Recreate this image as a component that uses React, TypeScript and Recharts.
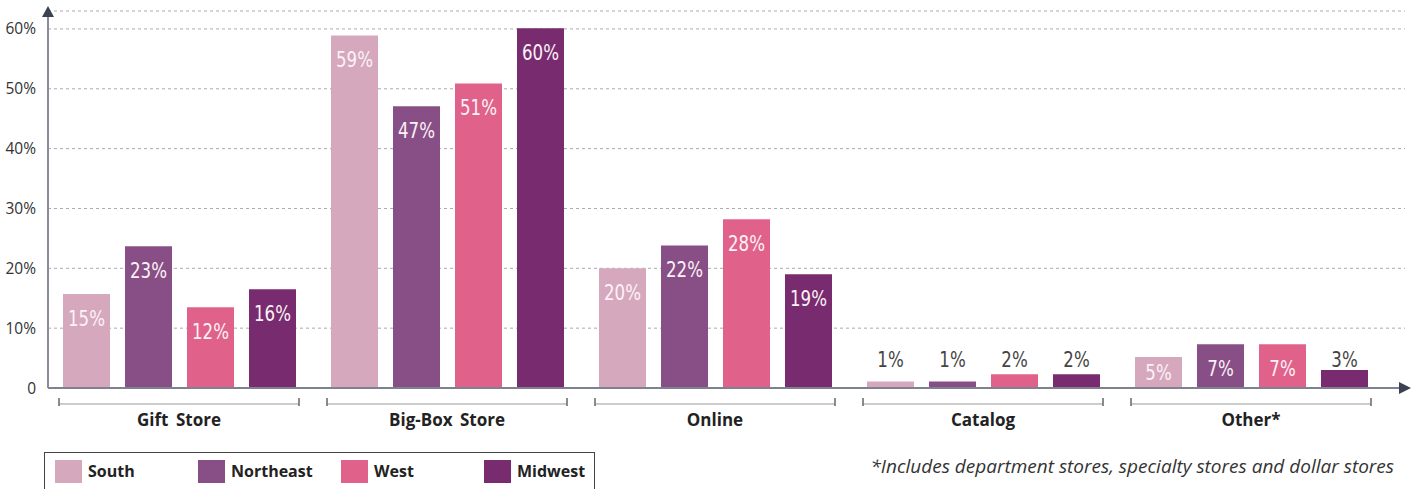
// Grouped bar chart: where shoppers buy, by region.
import * as React from 'react';
import { Bar, BarChart, CartesianGrid, LabelList, XAxis, YAxis } from 'recharts';

const categories = ['Gift Store', 'Big-Box Store', 'Online', 'Catalog', 'Other*'];

// bar heights as drawn (percent)
const south = [15.7, 58.9, 20.0, 1.1, 5.2];
const northeast = [23.7, 47.1, 23.8, 1.1, 7.3];
const west = [13.5, 50.9, 28.2, 2.3, 7.3];
const midwest = [16.5, 60.1, 19.0, 2.3, 3.0];

// printed labels
const southLabels = ['15%', '59%', '20%', '1%', '5%'];
const northeastLabels = ['23%', '47%', '22%', '1%', '7%'];
const westLabels = ['12%', '51%', '28%', '2%', '7%'];
const midwestLabels = ['16%', '60%', '19%', '2%', '3%'];

const yTicks = [0, 10, 20, 30, 40, 50, 60];
const footnote = '*Includes department stores, specialty stores and dollar stores';

const series = [
  { key: 'south', name: 'South', color: '#d5a8be', labels: southLabels },
  { key: 'northeast', name: 'Northeast', color: '#884f86', labels: northeastLabels },
  { key: 'west', name: 'West', color: '#e0628a', labels: westLabels },
  { key: 'midwest', name: 'Midwest', color: '#782b6e', labels: midwestLabels },
];

const data = categories.map((name, i) => ({
  name,
  south: south[i],
  northeast: northeast[i],
  west: west[i],
  midwest: midwest[i],
}));

const SANS = '"Open Sans", "Noto Sans", sans-serif';
const NARROW = '"DejaVu Sans Condensed", "Liberation Sans Narrow", sans-serif';

function makeLabel(labels: string[]) {
  return function BarLabel(props: any) {
    const { x, y, width, height, index } = props;
    const cx = Number(x) + Number(width) / 2;
    const top = Number(y);
    const bottom = top + Number(height);
    const text = labels[index];
    const inside = Number(height) >= 25;
    const cy = inside ? Math.min(top + 24, bottom - 16) : bottom - 29;
    return (
      <g transform={`translate(${cx},${cy}) scale(0.88,1)`}>
        <text x={0} y={0} dy='0.36em' textAnchor='middle' fill={inside ? '#fdf2f7' : '#444'}
          fontFamily={NARROW} fontSize={21}>
          {text}
        </text>
      </g>
    );
  };
}

function CategoryTick(props: any) {
  const { x, y, payload } = props;
  const half = 120;
  return (
    <g>
      <line x1={x - half} x2={x + half} y1={y + 16} y2={y + 16} stroke='#9a9a9a' strokeWidth={1} />
      <line x1={x - half} x2={x - half} y1={y + 10} y2={y + 18} stroke='#666' strokeWidth={1.5} />
      <line x1={x + half} x2={x + half} y1={y + 10} y2={y + 18} stroke='#666' strokeWidth={1.5} />
      <text x={x} y={y + 38} textAnchor='middle' fill='#222' fontFamily={SANS}
        fontWeight={700} fontSize={17} wordSpacing={3}>
        {payload.value}
      </text>
    </g>
  );
}

function YArrow(props: any) {
  const vb = props.viewBox || {};
  const ax = Number(vb.x) + Number(vb.width);
  const top = Number(vb.y);
  return <path d={`M${ax - 6},${top + 6} L${ax + 6},${top + 6} L${ax},${top - 5} Z`} fill='#3d4252' />;
}

function XArrow(props: any) {
  const vb = props.viewBox || {};
  const right = Number(vb.x) + Number(vb.width);
  const ay = Number(vb.y);
  return <path d={`M${right - 6},${ay - 6} L${right - 6},${ay + 6} L${right + 6},${ay} Z`} fill='#3d4252' />;
}

export default function App() {
  return (
    <div style={{ position: 'absolute', left: 0, top: 0, width: 1417, height: 489, background: '#fff', overflow: 'hidden' }}>
      <BarChart
        width={1417}
        height={489}
        data={data}
        margin={{ top: 11, right: 12, bottom: 41, left: 0 }}
        barSize={47}
        barGap={15}
      >
        <CartesianGrid vertical={false} stroke='#aaaaaa' strokeDasharray='3 3' />
        <XAxis
          dataKey='name'
          type='category'
          height={60}
          padding={{ left: -3, right: 20 }}
          axisLine={{ stroke: '#7d8190', strokeWidth: 2 }}
          tickLine={false}
          tickSize={0}
          tickMargin={0}
          interval={0}
          tick={<CategoryTick />}
          label={<XArrow />}
        />
        <YAxis
          width={48}
          domain={[0, 63]}
          ticks={yTicks}
          allowDataOverflow
          axisLine={{ stroke: '#8c8c98', strokeWidth: 2 }}
          tickLine={false}
          tickSize={0}
          tickMargin={12}
          tickFormatter={(v: number) => (v === 0 ? '0' : `${v}%`)}
          tick={{ fill: '#333', fontFamily: SANS, fontSize: 15.5 }}
          label={<YArrow />}
        />
        {series.map((s) => (
          <Bar key={s.key} dataKey={s.key} name={s.name} fill={s.color} isAnimationActive={false}>
            <LabelList dataKey={s.key} content={makeLabel(s.labels)} />
          </Bar>
        ))}
      </BarChart>

      <div style={{
        position: 'absolute', left: 44, top: 452, width: 551, height: 50,
        border: '1.5px solid #444', boxSizing: 'border-box', display: 'flex',
        paddingLeft: 10, paddingTop: 6, overflow: 'hidden',
      }}>
        {series.map((s) => (
          <div key={s.key} style={{ width: 143, flexShrink: 0, display: 'flex', alignItems: 'center', height: 24 }}>
            <span style={{ display: 'inline-block', width: 27, height: 23, background: s.color }} />
            <span style={{ marginLeft: 6, fontFamily: SANS, fontWeight: 700, fontSize: 16, color: '#222' }}>{s.name}</span>
          </div>
        ))}
      </div>

      <div style={{
        position: 'absolute', right: 23, top: 453, fontFamily: SANS, fontStyle: 'italic',
        fontSize: 19, color: '#333', whiteSpace: 'nowrap',
      }}>
        {footnote}
      </div>
    </div>
  );
}
